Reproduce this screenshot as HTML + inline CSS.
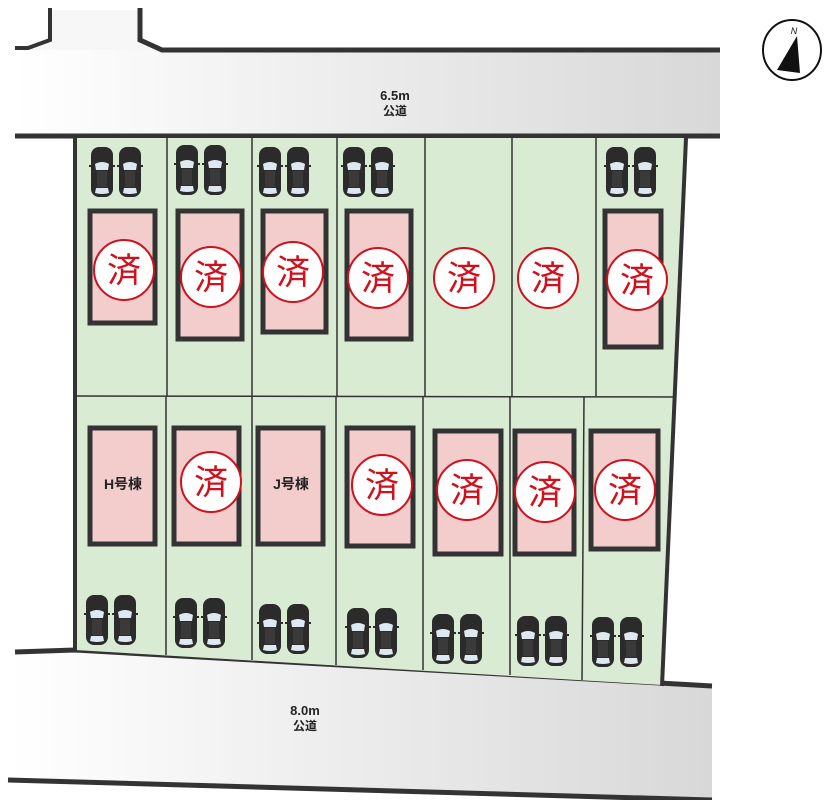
<!DOCTYPE html>
<html><head><meta charset="utf-8"><style>
html,body{margin:0;padding:0;background:#fff;}
svg{display:block;}
text{font-family:"Liberation Sans","Noto Sans CJK JP",sans-serif;}
</style></head><body>
<svg width="836" height="800" viewBox="0 0 836 800" xmlns="http://www.w3.org/2000/svg">
<defs>
<linearGradient id="rg" x1="0" x2="1" y1="0" y2="0">
<stop offset="0" stop-color="#ffffff"/><stop offset="1" stop-color="#d8d8d8"/>
</linearGradient>
<g id="car">
<rect x="0" y="0" width="22" height="50" rx="8" fill="#2b2b2b"/>
<path d="M4 17 Q11 13 18 17 L17 23 L5 23 Z" fill="#dde8f0"/>
<path d="M5 41 L17 41 L18 46 Q11 48 4 46 Z" fill="#dde8f0"/>
<rect x="6" y="24" width="10" height="16" fill="#3a3a3a"/>
<rect x="-2" y="18" width="3" height="2" fill="#2b2b2b"/><rect x="21" y="18" width="3" height="2" fill="#2b2b2b"/>
</g>
<g id="cars"><use href="#car" x="0" y="0"/><use href="#car" x="28" y="0"/></g>
<g id="stamp"><circle r="30" fill="#fff" stroke="#d0101c" stroke-width="2"/><text y="12" text-anchor="middle" font-size="34" fill="#d0101c">済</text></g>
</defs>

<!-- top road -->
<polygon points="15,50 160,50 720,50 720,135 15,135" fill="url(#rg)"/>
<polygon points="50,10 140,10 140,40 160,50 15,50 50,40" fill="#f7f7f7"/>
<polyline points="50,8 50,40 28,48 15,48" fill="none" stroke="#333" stroke-width="4"/>
<polyline points="140,8 140,40 162,50 720,50" fill="none" stroke="#333" stroke-width="5"/>
<line x1="15" y1="136" x2="720" y2="136" stroke="#333" stroke-width="5"/>
<text x="395" y="100" text-anchor="middle" font-size="13" font-weight="bold" fill="#222">6.5m</text>
<text x="395" y="115" text-anchor="middle" font-size="12" font-weight="bold" fill="#222">公道</text>

<!-- bottom road -->
<polygon points="15,652 75,650 712,685 712,800 10,780" fill="url(#rg)"/>
<polyline points="15,652 75,650 712,686" fill="none" stroke="#333" stroke-width="5"/>
<line x1="8" y1="780" x2="712" y2="800" stroke="#333" stroke-width="5"/>
<text x="305" y="715" text-anchor="middle" font-size="13" font-weight="bold" fill="#222">8.0m</text>
<text x="305" y="730" text-anchor="middle" font-size="12" font-weight="bold" fill="#222">公道</text>

<!-- lot -->
<polygon points="75,138 686,138 662,685 75,650" fill="#d9ebd3"/>
<g stroke="#333" stroke-width="1.5">
<line x1="167" y1="138" x2="167" y2="396"/><line x1="252" y1="138" x2="252" y2="396"/>
<line x1="337" y1="138" x2="337" y2="396"/><line x1="425" y1="138" x2="425" y2="396"/>
<line x1="512" y1="138" x2="512" y2="396"/><line x1="596" y1="138" x2="596" y2="396"/>
<line x1="75" y1="396" x2="675" y2="397"/>
<line x1="166" y1="397" x2="166" y2="655"/><line x1="252" y1="397" x2="252" y2="660"/>
<line x1="336" y1="397" x2="336" y2="665"/><line x1="423" y1="397" x2="423" y2="670"/>
<line x1="510" y1="397" x2="510" y2="675"/><line x1="584" y1="397" x2="582" y2="680"/>
</g>
<line x1="75" y1="138" x2="75" y2="652" stroke="#333" stroke-width="4"/>
<line x1="686" y1="138" x2="662" y2="686" stroke="#333" stroke-width="4"/>

<!-- buildings -->
<g fill="#f3cccc" stroke="#333" stroke-width="5">
<rect x="90" y="211" width="65" height="112"/>
<rect x="178" y="211" width="64" height="128"/>
<rect x="263" y="211" width="63" height="121"/>
<rect x="347" y="211" width="64" height="128"/>
<rect x="605" y="211" width="56" height="136"/>
<rect x="90" y="428" width="65" height="116"/>
<rect x="174" y="428" width="65" height="116"/>
<rect x="258" y="428" width="65" height="116"/>
<rect x="347" y="428" width="66" height="118"/>
<rect x="435" y="431" width="66" height="123"/>
<rect x="515" y="431" width="59" height="123"/>
<rect x="591" y="431" width="67" height="118"/>
</g>

<!-- cars -->
<use href="#cars" x="91" y="147"/>
<use href="#cars" x="176" y="145"/>
<use href="#cars" x="259" y="147"/>
<use href="#cars" x="343" y="147"/>
<use href="#cars" x="606" y="147"/>
<use href="#cars" x="86" y="595"/>
<use href="#cars" x="175" y="598"/>
<use href="#cars" x="259" y="604"/>
<use href="#cars" x="347" y="608"/>
<use href="#cars" x="432" y="614"/>
<use href="#cars" x="517" y="616"/>
<use href="#cars" x="592" y="617"/>

<!-- stamps -->
<use href="#stamp" x="124" y="270"/>
<use href="#stamp" x="211" y="277"/>
<use href="#stamp" x="293" y="272"/>
<use href="#stamp" x="378" y="278"/>
<use href="#stamp" x="464" y="278"/>
<use href="#stamp" x="548" y="278"/>
<use href="#stamp" x="637" y="280"/>
<use href="#stamp" x="211" y="482"/>
<use href="#stamp" x="382" y="485"/>
<use href="#stamp" x="467" y="490"/>
<use href="#stamp" x="545" y="492"/>
<use href="#stamp" x="625" y="490"/>
<text x="123" y="489" text-anchor="middle" font-size="14" font-weight="bold" fill="#222">H号棟</text>
<text x="291" y="489" text-anchor="middle" font-size="14" font-weight="bold" fill="#222">J号棟</text>

<!-- compass -->
<ellipse cx="792" cy="50" rx="29" ry="30" fill="#fff" stroke="#111" stroke-width="2"/>
<polygon points="797,36 777,70 800,73" fill="#111"/>
<text x="794" y="34" text-anchor="middle" font-size="9" font-style="italic" fill="#111">N</text>
</svg>
</body></html>
